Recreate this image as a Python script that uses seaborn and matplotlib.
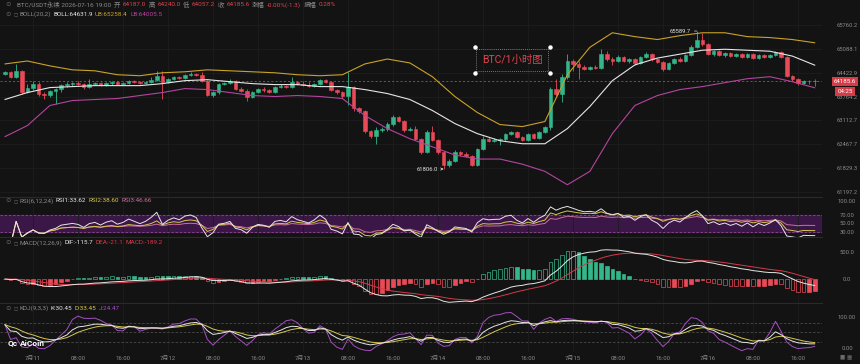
import numpy as np
import pandas as pd
import matplotlib
matplotlib.use('Agg')
import matplotlib.pyplot as plt
import seaborn as sns

# ---------------- data (hourly BTC/USDT candles, 2026-07-10 19:00 .. 2026-07-16 19:00) ----------------
first_time = '2026-07-10 19:00'

open_ = [64394, 64449, 64312, 64476, 63902, 64012, 64121, 63848, 63820, 63930,
         63984, 64094, 64121, 64148, 64121, 64039, 64121, 64148, 64094, 64148,
         64175, 64121, 64148, 64203, 64175, 64148, 64175, 64230, 64339, 64175,
         64257, 64312, 64285, 64367, 64394, 64367, 64203, 63820, 63902, 64121,
         64148, 64203, 63984, 63930, 63766, 63902, 63984, 63957, 63902, 64039,
         64066, 64039, 64175, 64121, 64094, 64066, 64121, 64230, 64175, 63957,
         63902, 63793, 64039, 63438, 63383, 62837, 62700, 62864, 62891, 63028,
         63219, 63110, 62864, 62891, 62618, 62263, 62810, 62591, 62263, 61908,
         62017, 62263, 62208, 62154, 61908, 62345, 62618, 62564, 62591, 62600,
         62755, 62810, 62673, 62591, 62755, 62646, 62810, 62946, 63984, 63848,
         64312, 64749, 64667, 64585, 64531, 64585, 64558, 64940, 64804, 64749,
         64858, 64749, 64804, 64695, 64858, 64940, 64804, 64722, 64531, 64695,
         64804, 64749, 64913, 65132, 65350, 65214, 64940, 65022, 64913, 64967,
         64886, 64940, 64858, 64940, 64831, 64913, 64858, 64913, 64995, 64858,
         64339, 64257, 64148, 64203, 64187.0]

close = [64449, 64312, 64476, 63902, 64012, 64121, 63848, 63820, 63930, 63984,
         64094, 64121, 64148, 64121, 64039, 64121, 64148, 64094, 64148, 64175,
         64121, 64148, 64203, 64175, 64148, 64175, 64230, 64339, 64175, 64257,
         64312, 64285, 64367, 64394, 64367, 64203, 63820, 63902, 64121, 64148,
         64203, 63984, 63930, 63766, 63902, 63984, 63957, 63902, 64039, 64066,
         64039, 64175, 64121, 64094, 64066, 64121, 64230, 64175, 63957, 63902,
         63793, 64039, 63438, 63383, 62837, 62700, 62864, 62891, 63028, 63219,
         63110, 62864, 62891, 62618, 62263, 62810, 62591, 62263, 61908, 62017,
         62263, 62208, 62154, 61908, 62345, 62618, 62564, 62591, 62600, 62755,
         62810, 62673, 62591, 62755, 62646, 62810, 62946, 63984, 63848, 64312,
         64749, 64667, 64585, 64531, 64585, 64558, 64940, 64804, 64749, 64858,
         64749, 64804, 64695, 64858, 64940, 64804, 64722, 64531, 64695, 64804,
         64749, 64913, 65132, 65350, 65214, 64940, 65022, 64913, 64967, 64886,
         64940, 64858, 64940, 64831, 64913, 64858, 64913, 64995, 64858, 64339,
         64257, 64148, 64203, 64187, 64185.6]

high = [64476, 64476, 64667, 64503, 64121, 64203, 64175, 63902, 63957, 64012,
        64121, 64175, 64175, 64203, 64148, 64257, 64175, 64175, 64175, 64203,
        64203, 64175, 64230, 64230, 64203, 64203, 64312, 64476, 64476, 64285,
        64339, 64339, 64394, 64449, 64421, 64449, 64230, 63930, 64148, 64175,
        64257, 64230, 64039, 63984, 63930, 64012, 64039, 63984, 64066, 64121,
        64094, 64312, 64203, 64203, 64175, 64148, 64257, 64257, 64203, 63984,
        63930, 64449, 64066, 63492, 63410, 62864, 62946, 62946, 63083, 63274,
        63246, 63137, 62946, 62973, 62646, 62864, 62973, 62618, 62290, 62072,
        62318, 62290, 62263, 62181, 62372, 62700, 62673, 62646, 62646, 62782,
        62837, 62837, 62700, 62782, 62782, 62837, 62973, 64039, 64257, 64394,
        64940, 64804, 64749, 64640, 64613, 64640, 65077, 65022, 64858, 64913,
        64886, 64831, 64831, 64886, 64995, 64967, 64831, 64749, 64722, 64831,
        64858, 64940, 65186, 65589.7, 65541, 65241, 65050, 65050, 64995, 64995,
        64967, 64967, 64967, 64967, 64940, 64940, 64940, 65022, 65022, 64886,
        64367, 64285, 64230, 64230, 64240.0]

low = [64367, 64285, 64285, 63848, 63875, 63957, 63793, 63711, 63766, 63574,
       63902, 64039, 64066, 64094, 63984, 64012, 64094, 64066, 64066, 64094,
       64094, 64094, 64121, 64148, 64121, 64121, 64148, 64203, 63711, 64148,
       64230, 64257, 64257, 64339, 64339, 64175, 63793, 63766, 63848, 64094,
       64121, 63957, 63902, 63656, 63738, 63875, 63902, 63875, 63875, 64012,
       64012, 64012, 64094, 64066, 64039, 64039, 64094, 64148, 63930, 63848,
       63738, 63520, 63383, 63328, 62782, 62646, 62482, 62810, 62837, 62973,
       63083, 62810, 62837, 62591, 62208, 62236, 62564, 62208, 61806.0, 61853,
       61990, 62154, 62126, 61881, 61881, 62318, 62536, 62536, 62455, 62564,
       62728, 62646, 62564, 62564, 62618, 62618, 62782, 62864, 63793, 63629,
       64257, 64476, 64257, 64503, 64503, 64531, 64531, 64749, 64640, 64722,
       64722, 64695, 64640, 64667, 64831, 64749, 64695, 64476, 64503, 64667,
       64722, 64722, 64886, 65105, 65159, 64913, 64886, 64886, 64858, 64858,
       64858, 64831, 64831, 64804, 64804, 64831, 64831, 64886, 64831, 64312,
       64203, 64094, 64121, 64121, 64057.2]

# Bollinger band every 4th candle
boll_step = 4
boll_up = [64667, 64749, 64613, 64503, 64476, 64367, 64339, 64421, 64449, 64503,
           64476, 64449, 64421, 64367, 64339, 64367, 64667, 64804, 64695, 64312,
           63766, 63328, 63001, 62946, 63083, 64367, 65132, 65541, 65432, 65350,
           65459, 65541, 65541, 65432, 65405, 65350, 65258.4]
boll_mid = [63684, 63875, 64012, 64039, 64066, 64066, 64066, 64121, 64203, 64230,
            64175, 64121, 64094, 64094, 64039, 64039, 63957, 63848, 63684, 63383,
            63028, 62755, 62564, 62482, 62482, 62891, 63492, 64203, 64640, 64831,
            64940, 65050, 65077, 65050, 65022, 64886, 64631.9]
boll_lo = [62673, 62973, 63520, 63656, 63684, 63711, 63793, 63875, 63984, 63957,
           63875, 63793, 63766, 63793, 63766, 63711, 63246, 62891, 62618, 62400,
           62181, 62072, 62072, 61935, 61744, 61389, 61744, 62755, 63520, 63793,
           63957, 64039, 64148, 64257, 64312, 64175, 64005.5]

tick_labels = ['7月11', '08:00', '16:00', '7月12', '08:00', '16:00', '7月13', '08:00', '16:00',
               '7月14', '08:00', '16:00', '7月15', '08:00', '16:00', '7月16', '08:00', '16:00']
price_ticks = [65760.2, 65088.1, 64422.9, 63764.2, 63112.7, 62467.7, 61829.3, 61197.2]
rsi_ticks = [100, 70, 50, 30]
macd_ticks = [500, 0]
kdj_ticks = [100, 0]

title_main = 'BTC/USDT永续 2026-07-16 19:00'
ohlc_hdr = [('开', '64187.0'), ('高', '64240.0'), ('低', '64057.2'), ('收', '64185.6'),
            ('涨幅', '-0.00%(-1.3)'), ('振幅', '0.28%')]
boll_hdr = ['BOLL(20,2)', 'BOLL:64631.9', 'UB:65258.4', 'LB:64005.5']
rsi_hdr = ['RSI(6,12,24)', 'RSI1:33.62', 'RSI2:38.60', 'RSI3:46.66']
macd_hdr = ['MACD(12,26,9)', 'DIF:-115.7', 'DEA:-21.1', 'MACD:-189.2']
kdj_hdr = ['KDJ(9,3,3)', 'K:30.45', 'D:33.45', 'J:24.47']
last_price_lbl = '64185.6'
countdown_lbl = '04:25'
chart_note = 'BTC/1小时图'

# ---------------- style ----------------
W, H = 860, 364
BG = '#131313'
GRID = '#1d1d1d'
SEP = '#2a2a2a'
TXT = '#8a8a8a'
UP = '#33b68a'
DN = '#ea4a58'
WHITE = '#e6e6e6'
GOLD = '#c9a227'
MAG = '#b3459e'
YEL = '#d6c84a'
PINK = '#c9709a'
PURP = '#a54fc0'

sns.set_theme(style='dark', rc={'axes.facecolor': BG, 'figure.facecolor': BG})
FAM = ['Roboto', 'Noto Sans CJK SC', 'DejaVu Sans']
plt.rcParams['font.family'] = FAM
plt.rcParams['axes.unicode_minus'] = False

# ---------------- indicators ----------------
o = np.array(open_, float); c = np.array(close, float)
h = np.array(high, float); l = np.array(low, float)
idx = np.arange(len(c))
cs = pd.Series(c)
diff = cs.diff().fillna(0).values


def wilder(x, n):
    """Wilder smoothing; the first n values use the running mean (standard seed)."""
    out = np.empty(len(x))
    for i in range(len(x)):
        if i < n:
            out[i] = x[1:i + 1].mean() if i > 0 else np.nan
        else:
            out[i] = (out[i - 1] * (n - 1) + x[i]) / n
    return out


rsi = {}
for n in (6, 12, 24):
    rsi[n] = wilder(np.clip(diff, 0, None), n) / wilder(np.abs(diff), n) * 100

ema12 = cs.ewm(span=12, adjust=False).mean()
ema26 = cs.ewm(span=26, adjust=False).mean()
dif = ema12 - ema26
dea = dif.ewm(span=9, adjust=False).mean()
hist = 2 * (dif - dea)

llv = pd.Series(l).rolling(9, min_periods=1).min()
hhv = pd.Series(h).rolling(9, min_periods=1).max()
rsv = (cs - llv) / (hhv - llv) * 100
K = rsv.ewm(alpha=1 / 3, adjust=False).mean()
D = K.ewm(alpha=1 / 3, adjust=False).mean()
J = 3 * K - 2 * D

times = pd.date_range(first_time, periods=len(c), freq='h')
tick_pos = [i for i, t in enumerate(times) if t.hour % 8 == 0]
boll_x = idx[::boll_step]

# ---------------- figure ----------------
fig = plt.figure(figsize=(W / 100, H / 100), dpi=100, facecolor=BG)
RIGHT = 822
XL = (-0.87, 145.27)


def px_axes(top, bottom):
    return fig.add_axes([0, 1 - bottom / H, RIGHT / W, (bottom - top) / H])


ax_m = px_axes(0, 197)
ax_r = px_axes(197, 237)
ax_d = px_axes(237, 303)
ax_k = px_axes(303, 352)

for ax in (ax_m, ax_r, ax_d, ax_k):
    ax.set_facecolor(BG)
    for s in ax.spines.values():
        s.set_visible(False)
    ax.spines['top'].set_visible(ax is not ax_m)
    ax.spines['top'].set_color(SEP)
    ax.spines['top'].set_linewidth(0.8)
    ax.set_xlim(*XL)
    ax.set_xticks(tick_pos)
    ax.yaxis.tick_right()
    ax.tick_params(axis='both', length=0, labelsize=4.2, colors=TXT)
    ax.tick_params(axis='y', pad=18)
    ax.grid(True, color=GRID, lw=0.6)
    ax.set_axisbelow(True)
    if ax is not ax_k:
        ax.set_xticklabels([])

# main: candles
ax_m.set_yscale('log')
ax_m.set_ylim(61065.6, 66472.2)
ax_m.set_yticks(price_ticks)
ax_m.set_yticklabels([f'{v:.1f}' for v in price_ticks])
ax_m.yaxis.set_minor_locator(matplotlib.ticker.NullLocator())
col = np.where(c >= o, UP, DN)
ax_m.vlines(idx, l, h, colors=col, lw=0.6, zorder=2)
ax_m.bar(idx, np.abs(c - o), bottom=np.minimum(o, c), width=0.66, color=col,
         edgecolor=col, lw=0.4, zorder=3)
sns.lineplot(x=boll_x, y=boll_up, ax=ax_m, color=GOLD, lw=0.8, zorder=4)
sns.lineplot(x=boll_x, y=boll_mid, ax=ax_m, color=WHITE, lw=0.8, zorder=4)
sns.lineplot(x=boll_x, y=boll_lo, ax=ax_m, color=MAG, lw=0.8, zorder=4)
ax_m.axhline(c[-1], color='#c2404c', lw=0.6, ls=(0, (2.5, 2.5)), zorder=1)

imax = int(np.argmax(h)); imin = int(np.argmin(l))
ax_m.annotate(f'{h[imax]:.1f}', xy=(imax, h[imax]), xytext=(-4, 0), textcoords='offset points',
              ha='right', va='center', color=WHITE, fontsize=4.2,
              arrowprops=dict(arrowstyle='-', color=WHITE, lw=0.5, shrinkA=0, shrinkB=0))
ax_m.annotate(f'{l[imin]:.1f}', xy=(imin, l[imin]), xytext=(-4, 0), textcoords='offset points',
              ha='right', va='center', color=WHITE, fontsize=4.2,
              arrowprops=dict(arrowstyle='->', color=WHITE, lw=0.5, shrinkA=0, shrinkB=0,
                              mutation_scale=4))

# note box
ax_m.text(512 / RIGHT, 1 - 60 / 197, chart_note, transform=ax_m.transAxes, ha='center', va='center',
          color='#e2434f', fontsize=7.5,
          bbox=dict(boxstyle='square,pad=0.55', fc='none', ec='#9a9a9a', lw=0.6, ls=(0, (1, 1.5))))
for (px, py) in [(475, 47), (550, 47), (475, 73), (550, 73)]:
    ax_m.plot(px / RIGHT, 1 - py / 197, 'o', ms=2.2, color='white', transform=ax_m.transAxes,
              zorder=6, clip_on=False)

# RSI
ax_r.set_ylim(18.9, 110)
ax_r.axhspan(30, 70, color='#3b1748', zorder=0)
for v in (70, 30):
    ax_r.axhline(v, color='#8e4a8e', lw=0.6, ls=(0, (3, 2)), zorder=1)
sns.lineplot(x=idx, y=rsi[24], ax=ax_r, color=PINK, lw=0.7)
sns.lineplot(x=idx, y=rsi[12], ax=ax_r, color=YEL, lw=0.7)
sns.lineplot(x=idx, y=rsi[6], ax=ax_r, color=WHITE, lw=0.7)
ax_r.set_yticks(rsi_ticks)
ax_r.set_yticklabels([f'{v:.2f}' for v in rsi_ticks])
ax_r.grid(False, axis='y')

# MACD
ax_d.set_ylim(-444, 778)
hv = hist.values
prev = np.concatenate([[0.0], np.abs(hv[:-1])])
hollow = np.abs(hv) > prev
hc = np.where(hv >= 0, UP, DN)
fcs = [BG if hol else cc for hol, cc in zip(hollow, hc)]
ax_d.bar(idx, hv, width=0.66, color=fcs, edgecolor=hc, lw=0.5, zorder=2)
sns.lineplot(x=idx, y=dea.values, ax=ax_d, color='#d8394a', lw=0.7, zorder=3)
sns.lineplot(x=idx, y=dif.values, ax=ax_d, color=WHITE, lw=0.7, zorder=3)
ax_d.set_yticks(macd_ticks)
ax_d.set_yticklabels([f'{v:.1f}' for v in macd_ticks])
ax_d.grid(False, axis='y')

# KDJ
ax_k.set_ylim(-12.9, 145)
for v in (80, 50, 20):
    ax_k.axhline(v, color='#4a4a4a', lw=0.6, ls=(0, (3, 2)), zorder=1)
sns.lineplot(x=idx, y=J.values, ax=ax_k, color=PURP, lw=0.7)
sns.lineplot(x=idx, y=D.values, ax=ax_k, color=YEL, lw=0.7)
sns.lineplot(x=idx, y=K.values, ax=ax_k, color=WHITE, lw=0.7)
ax_k.set_yticks(kdj_ticks)
ax_k.set_yticklabels([f'{v:.2f}' for v in kdj_ticks])
ax_k.grid(False, axis='y')
ax_k.set_xticklabels(tick_labels)
ax_k.tick_params(axis='x', pad=3, labelsize=4.3)

for ax in (ax_m, ax_r, ax_d, ax_k):
    ax.set_xlim(*XL)
    ax.set_xlabel(''); ax.set_ylabel('')
    for lbl in ax.get_yticklabels():
        lbl.set_horizontalalignment('center')

# ---------------- header texts ----------------
renderer = fig.canvas.get_renderer()


def seq(x_px, y_px, parts, size=4.6, gap=2.5):
    x = x_px
    for s, colr in parts:
        t = fig.text(x / W, 1 - y_px / H, s, color=colr, fontsize=size, ha='left', va='center')
        x += t.get_window_extent(renderer=renderer).width + gap
    return x


def icons(y_px):
    fig.text(5 / W, 1 - y_px / H, '⊙', color='#6a6a6a', fontsize=4.6, ha='left', va='center',
             family=['DejaVu Sans'])
    fig.text(13.5 / W, 1 - y_px / H, '◻', color='#6a6a6a', fontsize=3.6, ha='left', va='center',
             family=['DejaVu Sans'])


fig.text(5 / W, 1 - 5 / H, '⊙', color='#6a6a6a', fontsize=4.6, ha='left', va='center',
         family=['DejaVu Sans'])
parts = [(title_main, TXT)]
for k, v in ohlc_hdr:
    parts += [(k, TXT), (v, '#d9434f')]
seq(17, 5, parts)

icons(14)
seq(19, 14, [(boll_hdr[0], TXT), (boll_hdr[1], WHITE), (boll_hdr[2], GOLD), (boll_hdr[3], MAG)])
icons(201)
seq(19, 201, [(rsi_hdr[0], TXT), (rsi_hdr[1], WHITE), (rsi_hdr[2], YEL), (rsi_hdr[3], PINK)])
icons(243)
seq(19, 243, [(macd_hdr[0], TXT), (macd_hdr[1], WHITE), (macd_hdr[2], '#d8394a'), (macd_hdr[3], '#d8394a')])
icons(308)
seq(19, 308, [(kdj_hdr[0], TXT), (kdj_hdr[1], WHITE), (kdj_hdr[2], YEL), (kdj_hdr[3], PURP)])

# last price tag
fig.text(845 / W, 1 - 81.5 / H, last_price_lbl, color='white', fontsize=4.4, ha='center', va='center',
         bbox=dict(boxstyle='square,pad=0.35', fc='#d63c48', ec='none'))
fig.text(845 / W, 1 - 91.5 / H, countdown_lbl, color='white', fontsize=4.4, ha='center', va='center',
         bbox=dict(boxstyle='square,pad=0.35', fc='#d63c48', ec='none'))

# watermark
fig.text(8 / W, 1 - 343 / H, 'Qc', color='white', fontsize=6, fontweight='bold', ha='left', va='center')
fig.text(20 / W, 1 - 343 / H, 'AiCoin', color='white', fontsize=6, fontweight='bold', ha='left', va='center')
fig.text(846 / W, 1 - 357 / H, '■ ▦', color='#6a6a6a', fontsize=4, ha='center', va='center',
         family=['DejaVu Sans'])

fig.savefig('out.png', dpi=100, facecolor=BG)
